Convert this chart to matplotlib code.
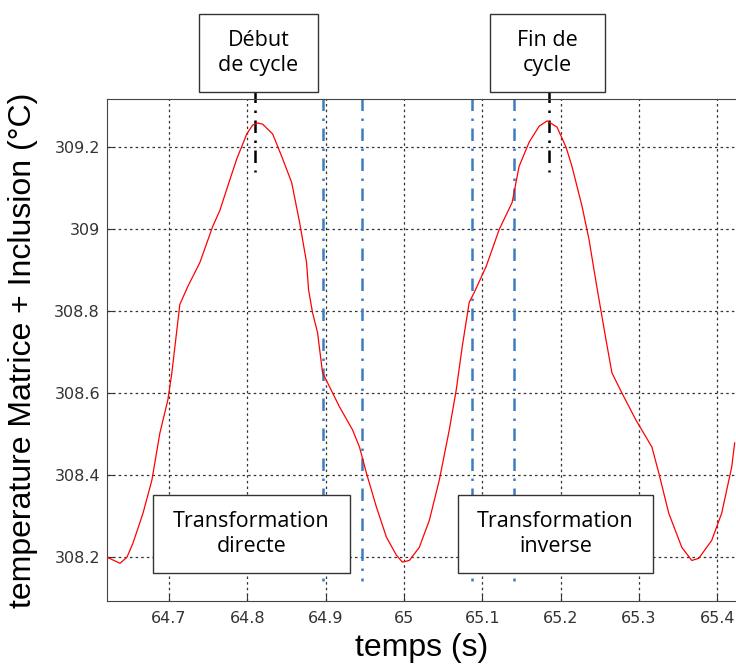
import matplotlib.pyplot as plt
from matplotlib.patches import Rectangle
from matplotlib.ticker import FuncFormatter

# temperature trace
t = [64.621, 64.6376, 64.6465, 64.6541, 64.6669, 64.6783, 64.6885, 64.6987, 64.7038,
     64.714, 64.7242, 64.7395, 64.7561, 64.765, 64.7752, 64.7866, 64.7994, 64.807,
     64.8134, 64.8197, 64.8325, 64.8439, 64.8567, 64.8669, 64.8758, 64.8783, 64.8834,
     64.8898, 64.8962, 64.9051, 64.9178, 64.9344, 64.9433, 64.9522, 64.965, 64.9777,
     64.9904, 64.9981, 65.007, 65.0197, 65.0325, 65.0452, 65.058, 65.0669, 65.0745,
     65.0834, 65.0898, 65.1051, 65.1217, 65.1382, 65.1471, 65.1599, 65.1726, 65.1828,
     65.1955, 65.207, 65.2146, 65.2274, 65.2363, 65.2465, 65.258, 65.2656, 65.2783,
     65.2962, 65.3166, 65.3255, 65.3382, 65.3548, 65.3675, 65.3764, 65.393, 65.4057,
     65.4185, 65.4223]
temp = [308.199, 308.184, 308.199, 308.233, 308.306, 308.387, 308.502, 308.583, 308.649,
        308.816, 308.860, 308.918, 309.007, 309.045, 309.105, 309.171, 309.232, 309.254,
        309.259, 309.256, 309.232, 309.178, 309.114, 309.016, 308.918, 308.852, 308.796,
        308.747, 308.649, 308.615, 308.566, 308.510, 308.468, 308.404, 308.321, 308.248,
        308.204, 308.187, 308.191, 308.223, 308.289, 308.387, 308.510, 308.608, 308.713,
        308.821, 308.845, 308.909, 308.999, 309.065, 309.153, 309.212, 309.251, 309.264,
        309.249, 309.200, 309.153, 309.056, 308.975, 308.857, 308.730, 308.649, 308.600,
        308.534, 308.468, 308.404, 308.306, 308.223, 308.191, 308.196, 308.240, 308.306,
        308.419, 308.478]

transfo_lines = [64.897, 64.946, 65.087, 65.141]
cycle_lines = [64.81, 65.185]
xticks = [64.7, 64.8, 64.9, 65.0, 65.1, 65.2, 65.3, 65.4]
yticks = [308.2, 308.4, 308.6, 308.8, 309.0, 309.2]

W, H = 736, 664
fig = plt.figure(figsize=(W / 100, H / 100), dpi=100)
ax = fig.add_axes([107 / W, 1 - 601 / H, (W - 107) / W, (601 - 99) / H])

ax.plot(t, temp, color="red", lw=0.9, zorder=3)

for x in transfo_lines:
    ax.plot([x, x], [309.32, 308.14], color="#3d7cc0", lw=1.8,
            linestyle=(0, (5, 3, 1, 3)), zorder=2)
for x in cycle_lines:
    ax.plot([x, x], [309.34, 309.14], color="black", lw=1.8,
            linestyle=(0, (5, 3, 1, 3)), zorder=2, clip_on=False)

ax.set_xlim(64.621, 65.424)
ax.set_ylim(308.092, 309.3175)
ax.set_xticks(xticks)
ax.set_yticks(yticks)
fmt = FuncFormatter(lambda v, p: f"{v:g}")
ax.xaxis.set_major_formatter(fmt)
ax.yaxis.set_major_formatter(fmt)

ax.grid(True, color="#333333", linestyle=(0, (2, 2.5)), lw=0.9)
ax.tick_params(direction="in", length=5, labelsize=11.5, color="#333333",
               labelcolor="#333333")
ax.tick_params(axis="x", pad=7)
ax.tick_params(axis="y", pad=5)
ax.spines["right"].set_visible(False)
for s in ["left", "top", "bottom"]:
    ax.spines[s].set_color("#444444")

ax.set_xlabel("temps (s)", fontsize=23, family="Liberation Sans", labelpad=5)
ax.set_ylabel("temperature Matrice + Inclusion (°C)", fontsize=23,
              family="Liberation Sans", labelpad=12)

# annotation boxes, pixel positions
boxes = [
    (199, 14, 318, 92, "Début\nde cycle"),
    (490, 14, 605, 92, "Fin de\ncycle"),
    (153, 495, 350, 573, "Transformation\ndirecte"),
    (458, 495, 653, 573, "Transformation\ninverse"),
]
for x0, y0, x1, y1, txt in boxes:
    fig.patches.append(Rectangle((x0 / W, 1 - y1 / H), (x1 - x0) / W, (y1 - y0) / H,
                                 transform=fig.transFigure, facecolor="white",
                                 edgecolor="#333333", lw=1.0, zorder=5))
    fig.text((x0 + x1) / 2 / W, 1 - (y0 + y1) / 2 / H, txt, ha="center", va="center",
             fontsize=15.5, family="Open Sans", linespacing=1.3, zorder=6)

fig.savefig("out.png", dpi=100)
